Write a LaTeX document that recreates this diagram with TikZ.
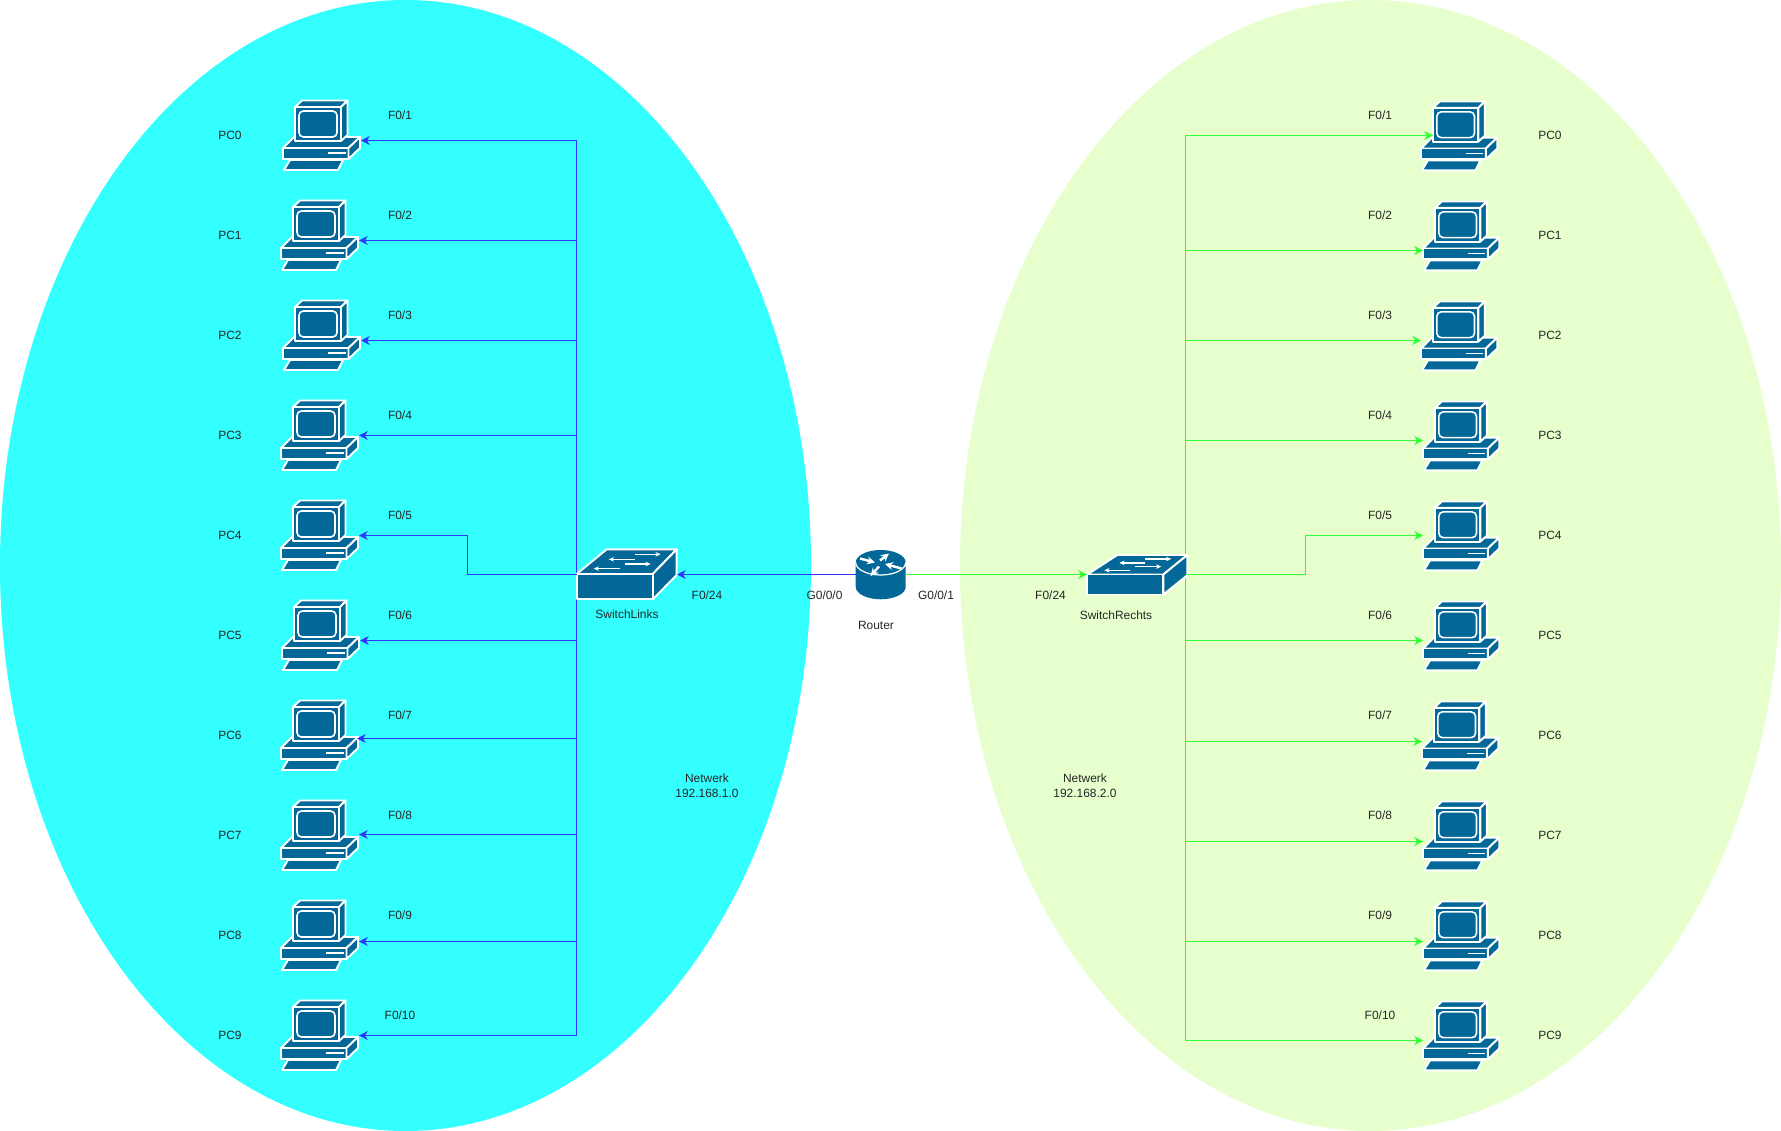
\documentclass[tikz,border=0pt]{standalone}
\usepackage{fontspec}
\setmainfont{Liberation Sans}
\usetikzlibrary{arrows.meta}
\definecolor{netleft}{HTML}{33FFFF}
\definecolor{netright}{HTML}{E6FFCC}
\definecolor{device}{HTML}{036897}
\definecolor{linkleft}{HTML}{3333FF}
\definecolor{linkright}{HTML}{33FF33}

\tikzset{
  lab/.style={font=\fontsize{6.8}{8.6}\selectfont, text=black!85, align=center, inner sep=0pt},
  linkl/.style={draw=linkleft, line width=0.5pt, -{Stealth[length=5pt,width=5pt]}},
  linkr/.style={draw=linkright, line width=0.5pt, -{Stealth[length=5pt,width=5pt]}},
  part/.style={fill=device, draw=white, line width=1.1pt, line join=round},
  swarrow/.style={white, line width=0.7pt, -{Stealth[length=3pt,width=2.6pt]}},
  rtarrow/.style={white, line width=1.4pt, -{Stealth[length=4.5pt,width=4.5pt]}},
  pc/.pic={
    \path[part] (1,49) -- (12,38) -- (78,38) -- (66.5,49) -- cycle;
    \path[part] (1,49) rectangle (66.5,60);
    \path[part] (66.5,49) -- (78,38) -- (78,49) -- (66.5,60) -- cycle;
    \draw[white, line width=1pt] (46,54) -- (64,54);
    \path[part] (8,61) -- (61,61) -- (56,71) -- (2,71) -- cycle;
    \path[part] (13,8) -- (20,1.5) -- (65.5,1.5) -- (59,8) -- cycle;
    \path[part] (59,8) -- (65.5,1.5) -- (65.5,36) -- (59,42) -- cycle;
    \path[part] (13,8) rectangle (59,42);
    \draw[white, line width=0.9pt, rounded corners=2.5pt] (17,12) rectangle (55,38);
  },
  switch/.pic={
    \path[part] (0,24.7) -- (30,0) -- (100,0) -- (76,24.7) -- cycle;
    \path[part] (76,24.7) -- (100,0) -- (100,25.7) -- (76,50) -- cycle;
    \path[part] (0,24.7) rectangle (76,50);
    \draw[swarrow] (58,5) -- (84,5);
    \draw[swarrow] (58,10) -- (32,10);
    \draw[swarrow] (48,14.7) -- (74,14.7);
    \draw[swarrow] (43,19.3) -- (17,19.3);
  }
}

\begin{document}
\begin{tikzpicture}[x=0.02cm, y=-0.02cm]
  \useasboundingbox (0,0) rectangle (1781,1131);

  % the two networks
  \fill[netleft] (405.5,565.5) ellipse [x radius=405.5, y radius=565.5];
  \fill[netright] (1370.5,565.5) ellipse [x radius=410.5, y radius=565.5];

  % trunks
  \draw[linkleft, line width=0.5pt] (576.5,140.5) -- (576.5,1035.5);
  \draw[linkright, line width=0.5pt] (1185.5,135.5) -- (1185.5,1040.5);

  % left side: x of icon, y of icon, y of link, x of link end
  \foreach \n/\ix/\iy/\ly/\ex/\port in {
      0/282/99/140.5/361/1, 1/280/199/240.5/359/2, 2/282/299/340.5/361/3,
      3/280/399/435.5/359/4, 4/280/499/535.5/359/5, 5/281/599/640.5/360/6,
      6/280/699/738.5/357/7, 7/280/799/834.5/359/8, 8/280/899/941.5/359/9,
      9/280/999/1035.5/359/10} {
    \pic (pcl\n) at (\ix,\iy) {pc};
    \coordinate (tapl\n) at (576.5,\ly);
    \coordinate (endl\n) at (\ex,\ly);
    \node[lab] (namel\n) at (230,\iy+36) {PC\n};
    \node[lab] (portl\n) at (400,\iy+16) {F0/\port};
  }
  % right side
  \foreach \n/\ix/\iy/\ly/\ex/\port in {
      0/1420/100/135.5/1433/1, 1/1422/200/250.5/1423/2, 2/1420/300/340.5/1421/3,
      3/1422/400/440.5/1423/4, 4/1422/500/535.5/1423/5, 5/1422/600/640.5/1423/6,
      6/1421/700/741.5/1422/7, 7/1422/800/841.5/1423/8, 8/1422/900/941.5/1423/9,
      9/1422/1000/1040.5/1423/10} {
    \pic[xscale=.99, yscale=.99] (pcr\n) at (\ix,\iy) {pc};
    \coordinate (tapr\n) at (1185.5,\ly);
    \coordinate (endr\n) at (\ex,\ly);
    \node[lab] (namer\n) at (1550,\iy+35) {PC\n};
    \node[lab] (portr\n) at (1380,\iy+15) {F0/\port};
  }

  % switches
  \pic (swl) at (576.7,549.3) {switch};
  \pic[yscale=.79] (swr) at (1087.3,555) {switch};
  \coordinate (swlin) at (677,574.5);
  \coordinate (swlout) at (576.5,574.5);
  \coordinate (swrin) at (1087,574.5);
  \coordinate (swrout) at (1185.5,574.5);

  % router
  \path[fill=device] (855.7,562.5) -- (855.7,586.8) arc [start angle=180, end angle=0, x radius=25, y radius=12.5]
    -- (905.7,562.5) arc [start angle=0, end angle=-180, x radius=25, y radius=12.5] -- cycle;
  \draw[white, line width=0.7pt] (855.7,562.5) arc [start angle=180, end angle=0, x radius=25, y radius=12.5];
  \draw[rtarrow] (860,558.5) -- (875,562.5);
  \draw[rtarrow] (880,560.5) -- (889,553.5);
  \draw[rtarrow] (879,566.5) -- (870.5,576);
  \draw[rtarrow] (901.5,568.5) -- (885,564);
  \coordinate (routerl) at (855.7,574.5);
  \coordinate (routerr) at (905.7,574.5);

  % links
  \foreach \n in {0,1,2,3,5,6,7,8,9}
    \draw[linkl] (tapl\n) -- (endl\n);
  \foreach \n in {0,1,2,3,5,6,7,8,9}
    \draw[linkr] (tapr\n) -- (endr\n);
  \draw[linkl] (swlout) -- (467.5,574.5) -- (467.5,535.5) -- (endl4);
  \draw[linkr] (swrout) -- (1305,574.5) -- (1305,535.5) -- (endr4);
  \draw[linkl] (routerl) -- (swlin);
  \draw[linkr] (routerr) -- (swrin);

  % labels
  \node[lab] (swlname) at (627,614) {SwitchLinks};
  \node[lab] (swrname) at (1116,615) {SwitchRechts};
  \node[lab] (routername) at (876,625) {Router};
  \node[lab] (portswl) at (707,595) {F0/24};
  \node[lab] (portrl) at (824.5,595) {G0/0/0};
  \node[lab] (portrr) at (936,595) {G0/0/1};
  \node[lab] (portswr) at (1050.5,595) {F0/24};
  \node[lab] (netl) at (707,785.5) {Netwerk\\192.168.1.0};
  \node[lab] (netr) at (1085,785.5) {Netwerk\\192.168.2.0};
\end{tikzpicture}
\end{document}
